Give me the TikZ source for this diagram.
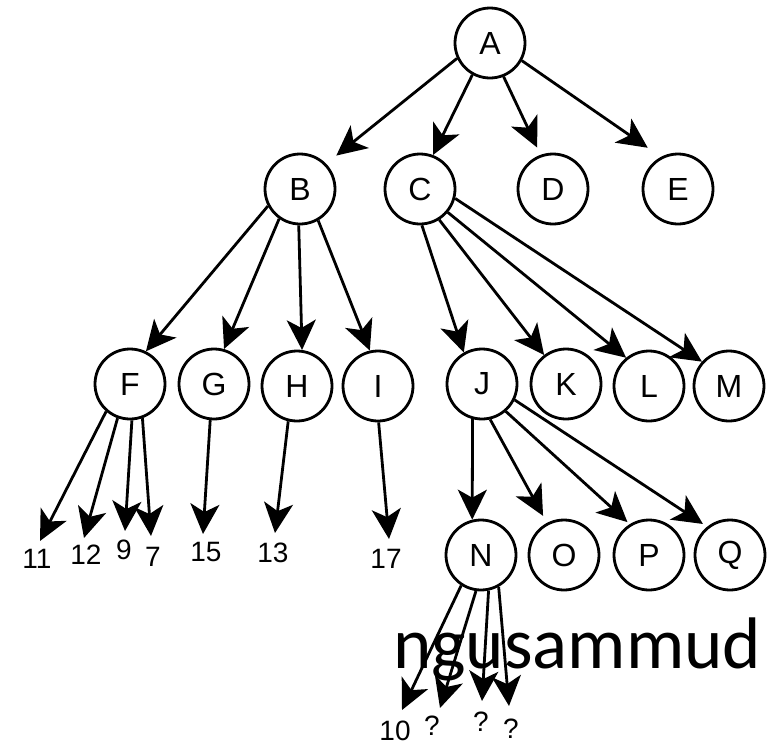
\documentclass[tikz,border=0pt]{standalone}
\usepackage{fontspec}
\setmainfont{Liberation Sans}
\newfontfamily\carlito{Carlito}
\usetikzlibrary{arrows.meta}
\begin{document}
\begin{tikzpicture}[x=1pt,y=-1pt,
  vertex/.style={circle, draw, line width=2.8pt, minimum size=70pt, inner sep=0pt,
    font=\fontsize{32}{32}\selectfont},
  leaf/.style={inner sep=0pt, font=\fontsize{28}{28}\selectfont},
  arr/.style={line width=2.8pt, -{Stealth[length=30pt,width=29pt,inset=8pt]}}]
\fill[white] (0,0) rectangle (779,745);
\useasboundingbox (0,0) rectangle (779,745);

% tree vertices
\node[vertex] (A) at (490,43) {A};
\node[vertex] (B) at (300,189) {B};
\node[vertex] (C) at (420,189) {C};
\node[vertex] (D) at (553,189) {D};
\node[vertex] (E) at (678,189) {E};
\node[vertex] (F) at (130,384) {F};
\node[vertex] (G) at (214,384) {G};
\node[vertex] (H) at (297,386) {H};
\node[vertex] (I) at (378,386) {I};
\node[vertex] (J) at (482,384) {J};
\node[vertex] (K) at (566,384) {K};
\node[vertex] (L) at (649,386) {L};
\node[vertex] (M) at (729,386) {M};
\node[vertex] (N) at (481,555) {N};
\node[vertex] (O) at (564,555) {O};
\node[vertex] (P) at (649,555) {P};
\node[vertex] (Q) at (730,555) {Q};

% leaf values
\node[leaf] (v11) at (37,559) {11};
\node[leaf] (v12) at (86,555) {12};
\node[leaf] (v9)  at (124,550) {9};
\node[leaf] (v7)  at (153,557) {7};
\node[leaf] (v15) at (206,552) {15};
\node[leaf] (v13) at (273,553) {13};
\node[leaf] (v17) at (386,559) {17};
\node[leaf] (v10) at (395,731) {10};
\node[leaf] (q1)  at (432,726) {?};
\node[leaf] (q2)  at (481,722) {?};
\node[leaf] (q3)  at (511,729) {?};

% arrow tips above the leaf values
\coordinate (t11) at (40,541);
\coordinate (t12) at (84,538);
\coordinate (t9)  at (125,531);
\coordinate (t7)  at (151,536);
\coordinate (t15) at (203,534);
\coordinate (t13) at (275,533);
\coordinate (t17) at (389,539);
\coordinate (t10) at (402,710);
\coordinate (tq1) at (440,708);
\coordinate (tq2) at (482,701);
\coordinate (tq3) at (509,706);

% level 1
\draw[arr, shorten >=13pt] (A.205) -- (B.44);
\draw[arr] (A.241) -- (C.69);
\draw[arr, shorten >=8pt] (A.292) -- (D.110);
\draw[arr, shorten >=16pt] (A.331) -- (E.118);

% level 2
\draw[arr] (B.208) -- (F.64);
\draw[arr] (B.235) -- (G.74);
\draw[arr] (B.268) -- (H.82);
\draw[arr] (B.300) -- (I.103);
\draw[arr] (C.273) -- (J.120);
\draw[arr] (C.302) -- (K.127);
\draw[arr] (C.320) -- (L.129);
\draw[arr] (C.345) -- (M.138);

% level 3
\draw[arr] (J.255) -- (N.104);
\draw[arr, shorten >=8pt] (J.283) -- (O.118);
\draw[arr, shorten >=3pt] (J.311) -- (P.122);
\draw[arr, shorten >=5pt] (J.334) -- (Q.129);

% leaves
\draw[arr] (F.229) -- (t11);
\draw[arr] (F.250) -- (t12);
\draw[arr] (F.273) -- (t9);
\draw[arr] (F.290) -- (t7);
\draw[arr] (G.264) -- (t15);
\draw[arr] (H.256) -- (t13);
\draw[arr] (I.271) -- (t17);
\draw[arr] (N.237) -- (t10);
\draw[arr] (N.262) -- (tq1);
\draw[arr] (N.282) -- (tq2);
\draw[arr] (N.299) -- (tq3);

% caption word, set over the drawing
\node[anchor=base west, inner sep=0pt, font=\carlito\fontsize{73}{73}\selectfont]
  (word) at (393,668) {ngusammud};
\end{tikzpicture}
\end{document}
